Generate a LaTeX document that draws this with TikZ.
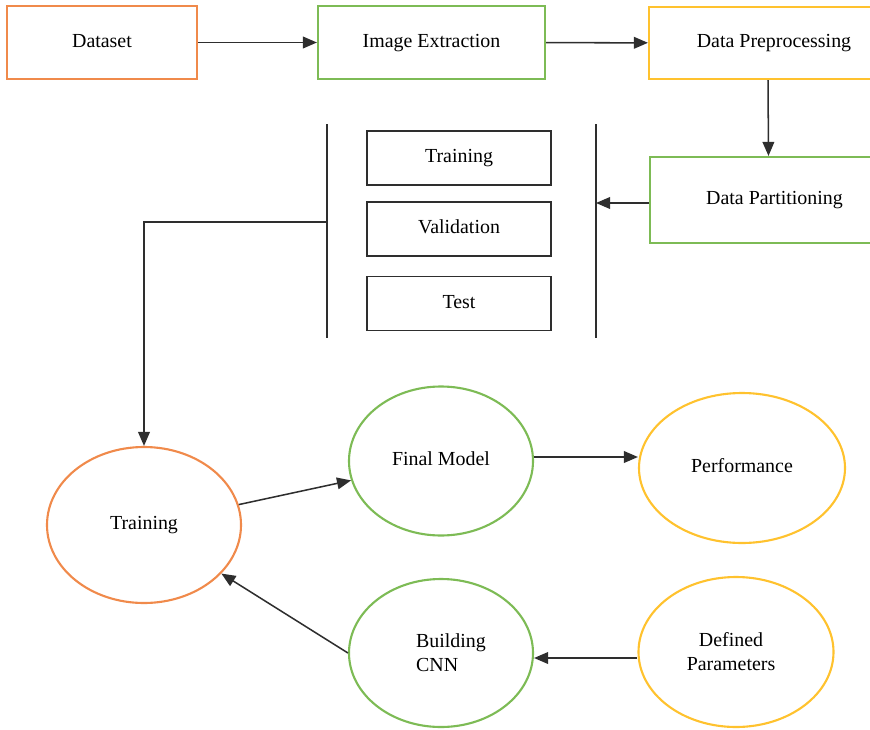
\documentclass[tikz,border=0pt]{standalone}
\usepackage{fontspec}
\setmainfont{Liberation Serif}
\usepackage{tikz}
\usetikzlibrary{shapes.geometric, arrows.meta, positioning, calc}
\definecolor{BoxOrange}{HTML}{F08A4B}
\definecolor{BoxGreen}{HTML}{7DBB55}
\definecolor{BoxYellow}{HTML}{FFC22E}
\definecolor{LineGray}{HTML}{2E2E2E}
\newcommand{\flowfont}{\fontsize{17}{20.5}\selectfont}

\tikzset{
  stage/.style={draw, line width=1.8pt, rectangle, minimum height=2.19cm,
                font=\flowfont, inner sep=2pt, text height=12pt, text depth=4pt},
  split/.style={draw=LineGray, line width=1.6pt, rectangle, minimum width=5.52cm,
                minimum height=1.62cm, font=\flowfont, text height=12pt, text depth=4pt},
  bubble/.style={draw, line width=1.8pt, ellipse, font=\flowfont, align=center,
                 inner sep=0pt},
  oneline/.style={text height=12pt, text depth=4pt},
  arr/.style={draw=LineGray, line width=1.3pt, -{Triangle[length=12pt,width=10pt]}},
  bar/.style={draw=LineGray, line width=1.6pt}
}

\begin{document}
\begin{tikzpicture}[x=0.03cm, y=-0.03cm]
\useasboundingbox (0,0) rectangle (870,729);
\clip (0,0) rectangle (870,729);

% top row
\node[stage, draw=BoxOrange, minimum width=5.7cm] (data) at (102,42.5) {Dataset};
\node[stage, draw=BoxGreen, minimum width=6.81cm] (extract) at (431.5,42.5) {Image Extraction};
\node[stage, draw=BoxYellow, minimum width=7.5cm, minimum height=2.16cm] (prep) at (774,43) {Data Preprocessing};
\node[stage, draw=BoxGreen, minimum width=7.47cm, minimum height=2.58cm] (part) at (774.5,200) {Data Partitioning};

\draw[arr] (data) -- (extract);
\draw[arr] (extract) -- (prep);
\draw[arr] ([xshift=-0.18cm]prep.south) -- ([xshift=-0.18cm]part.north);

% partitions between the two bars
\node[split] (trainset) at (459,158) {Training};
\node[split] (valset) at (459,229) {Validation};
\node[split] (testset) at (459,303.5) {Test};

\coordinate (lbtop) at (327,124);
\coordinate (lbbot) at (327,338);
\coordinate (rbtop) at (596,124);
\coordinate (rbbot) at (596,338);
\coordinate (fork) at (327,222);
\draw[bar] (lbtop) -- (lbbot);
\draw[bar] (rbtop) -- (rbbot);
\draw[arr] ([yshift=-0.09cm]part.west) -- ([yshift=-0.09cm]part.west -| rbtop);

% model loop
\node[bubble, oneline, draw=BoxOrange, minimum width=5.82cm, minimum height=4.68cm] (train) at (144,525) {Training};
\node[bubble, oneline, draw=BoxGreen, minimum width=5.52cm, minimum height=4.47cm] (final) at (441,461) {Final Model};
\node[bubble, oneline, draw=BoxYellow, minimum width=6.18cm, minimum height=4.5cm] (perf) at (742,468) {Performance};
\node[bubble, draw=BoxGreen, minimum width=5.52cm, minimum height=4.44cm, align=left] (cnn) at (441,653) {\hspace*{0.6cm}Building\\\hspace*{0.6cm}CNN};
\node[bubble, draw=BoxYellow, minimum width=5.85cm, minimum height=4.5cm] (params) at (736,652) {Defined\hspace*{0.3cm}\\Parameters\hspace*{0.3cm}};

\draw[arr] (fork) -| (train.north);
\draw[arr] (train) -- (final);
\draw[arr] ([yshift=0.12cm]final.east) -- ([yshift=0.12cm]final.east -| perf.west);
\draw[arr] ([yshift=-0.18cm]params.west) -- ([yshift=-0.18cm]params.west -| cnn.east);
\draw[arr] (cnn.west) -- (train);
\end{tikzpicture}
\end{document}
